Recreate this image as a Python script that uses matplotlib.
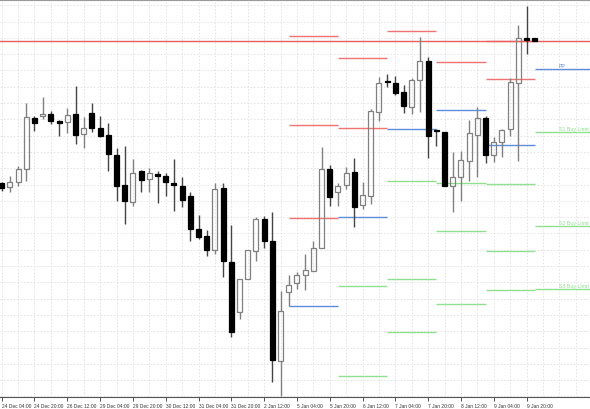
import matplotlib
matplotlib.use("Agg")
import matplotlib.pyplot as plt
import numpy as np

# H4 candles (price in points)
opens = [215.7, 211.7, 216.7, 230.0, 280.7, 282.7, 284.7, 278.0, 276.7, 284.7,
         265.0, 286.0, 271.0, 264.0, 244.0, 214.3, 196.7, 227.7, 220.0, 224.7,
         223.0, 216.3, 213.3, 202.7, 169.7, 163.3, 149.3, 210.7, 136.7, 86.7,
         120.0, 147.7, 180.0, 157.7, 37.7, 106.7, 115.7, 124.0, 127.7, 150.7,
         230.0, 206.7, 214.0, 226.7, 194.0, 203.3, 287.3, 318.3, 315.7, 306.7,
         292.3, 319.0, 337.7, 269.3, 267.3, 213.3, 221.7, 238.3, 264.0, 281.0,
         244.0, 256.7, 270.0, 315.7, 360.7, 361.0]
highs = [216.7, 222.7, 232.7, 295.7, 282.7, 302.0, 288.3, 279.0, 290.7, 313.3,
         281.7, 296.0, 282.7, 276.0, 250.7, 252.7, 240.0, 229.0, 230.7, 227.7,
         225.7, 240.0, 222.3, 207.3, 184.3, 169.0, 215.7, 215.7, 174.3, 120.0,
         149.0, 181.7, 183.3, 186.7, 108.3, 124.0, 126.7, 145.0, 158.3, 251.7,
         234.0, 216.0, 231.7, 241.0, 216.7, 290.0, 321.7, 325.0, 323.3, 314.3,
         321.0, 361.7, 341.7, 270.0, 267.3, 246.7, 247.7, 279.0, 291.7, 283.3,
         261.7, 270.0, 320.7, 374.0, 393.3, 361.0]
lows = [208.3, 207.3, 212.7, 218.3, 267.7, 280.0, 275.3, 263.3, 266.0, 255.0,
        250.7, 266.7, 261.7, 228.3, 198.3, 175.0, 192.7, 207.3, 207.3, 195.7,
        203.3, 187.7, 191.7, 158.3, 160.0, 143.3, 145.0, 121.7, 62.3, 80.0,
        120.0, 137.7, 151.0, 16.7, 3.3, 93.3, 110.0, 109.3, 127.7, 150.7,
        193.3, 193.3, 210.0, 172.3, 190.0, 195.0, 278.3, 311.7, 304.0, 285.7,
        284.7, 286.7, 241.0, 253.3, 213.3, 186.7, 198.3, 218.3, 221.7, 236.0,
        236.7, 241.7, 263.3, 238.3, 345.0, 357.7]
closes = [211.0, 216.7, 230.0, 281.7, 276.0, 284.7, 278.0, 276.3, 284.0, 264.3,
          270.7, 270.7, 263.3, 245.0, 213.3, 197.7, 225.7, 219.3, 225.7, 222.7,
          217.0, 214.0, 199.3, 170.0, 162.3, 149.3, 209.7, 137.7, 66.7, 120.0,
          149.0, 180.0, 158.0, 39.0, 87.7, 114.3, 124.3, 129.0, 150.7, 230.0,
          202.3, 212.7, 226.0, 192.3, 204.0, 287.7, 315.7, 316.7, 305.7, 293.3,
          319.3, 337.7, 263.3, 267.7, 213.3, 221.7, 239.0, 265.7, 281.0, 244.0,
          256.7, 269.0, 316.7, 360.7, 359.3, 357.7]

tick_labels = ["24 Dec 04:00", "24 Dec 20:00", "26 Dec 12:00", "29 Dec 04:00",
               "29 Dec 20:00", "30 Dec 12:00", "31 Dec 04:00", "31 Dec 20:00",
               "2 Jan 12:00", "5 Jan 04:00", "5 Jan 20:00", "6 Jan 12:00",
               "7 Jan 04:00", "7 Jan 20:00", "8 Jan 12:00", "9 Jan 04:00",
               "9 Jan 20:00"]

# daily pivot levels, one entry per day
day_start = [35, 41, 47, 53, 59, 65]
resistance = [[362.7, 274.0, 180.7], [340.7, 271.3], [367.7], [336.7], [358.3, 320.0], []]
pivot = [92.7, 181.7, 270.0, 289.0, 254.0, 330.0]
support = [[], [112.7, 23.3], [217.7, 120.0, 67.3], [216.0, 167.7, 94.7],
           [215.0, 147.7, 109.0], [266.7, 172.7, 109.7]]
current_labels = ["S1 Buy Limit", "S2 Buy Limit", "S3 Buy Limit"]
order_line = 358.0

red = "#f07272"
blue = "#5c8ede"
green = "#8fe08f"
small_font = ["Liberation Sans", "DejaVu Sans"]

fig = plt.figure(figsize=(5.9, 4.1), dpi=100)
ax = fig.add_axes([0, 12 / 410, 1, 397 / 410])
x_max = 71.74
ax.set_xlim(-0.207, x_max)
ax.set_ylim(2, 399)

# grid
ax.set_xticks(np.arange(0, 65, 4))
ax.set_xticklabels(tick_labels, ha="left", fontsize=3.55, family=small_font)
ax.set_xticks(np.arange(0, 72, 2), minor=True)
ax.set_yticks(np.arange(393.8, 0, -16.3))
ax.set_yticklabels([])
ax.grid(True, which="both", color="#e0e0e0", linestyle=(0, (2, 2)), linewidth=0.6)
ax.tick_params(axis="y", length=0)
ax.tick_params(axis="x", which="major", length=3, width=0.6, pad=1.2, colors="#333333")
ax.tick_params(axis="x", which="minor", length=0)
ax.set_axisbelow(True)
for side in ["left", "right"]:
    ax.spines[side].set_visible(False)
ax.spines["bottom"].set_color("#555555")
ax.spines["top"].set_color("#999999")
ax.spines["bottom"].set_linewidth(0.8)
ax.spines["top"].set_linewidth(0.8)

# pivot segments
for d in range(len(day_start)):
    x0 = day_start[d]
    x1 = day_start[d] + 6 if d < len(day_start) - 1 else x_max
    for lvl in resistance[d]:
        ax.hlines(lvl, x0, x1, color=red, linewidth=1, zorder=2)
    ax.hlines(pivot[d], x0, x1, color=blue, linewidth=1, zorder=2)
    for lvl in support[d]:
        ax.hlines(lvl, x0, x1, color=green, linewidth=1, zorder=2)

ax.axhline(order_line, color="#e85f5f", linewidth=1, zorder=2)

ax.text(67.9, pivot[-1] + 1.2, "PP", color=blue, fontsize=3.8, family=small_font,
        ha="left", va="bottom", zorder=3)
for lvl, txt in zip(support[-1], current_labels):
    ax.text(67.9, lvl + 1.2, txt, color=green, fontsize=3.8, family=small_font,
            ha="left", va="bottom", zorder=3)

# candles
for i in range(len(opens)):
    o, h, l, c = opens[i], highs[i], lows[i], closes[i]
    top = max(o, c)
    bot = min(o, c)
    if c >= o:
        edge = "#808080"
        face = "none"
    else:
        edge = "#000000"
        face = "#000000"
    wick = "#808080" if c >= o else "#444444"
    ax.vlines(i, top, h, color=wick, linewidth=1, zorder=4)
    ax.vlines(i, l, bot, color=wick, linewidth=1, zorder=4)
    ax.bar(i, max(top - bot, 0.6), bottom=bot, width=0.6, facecolor=face,
           edgecolor=edge, linewidth=0.9, zorder=5)

fig.savefig("out.png", dpi=100)
